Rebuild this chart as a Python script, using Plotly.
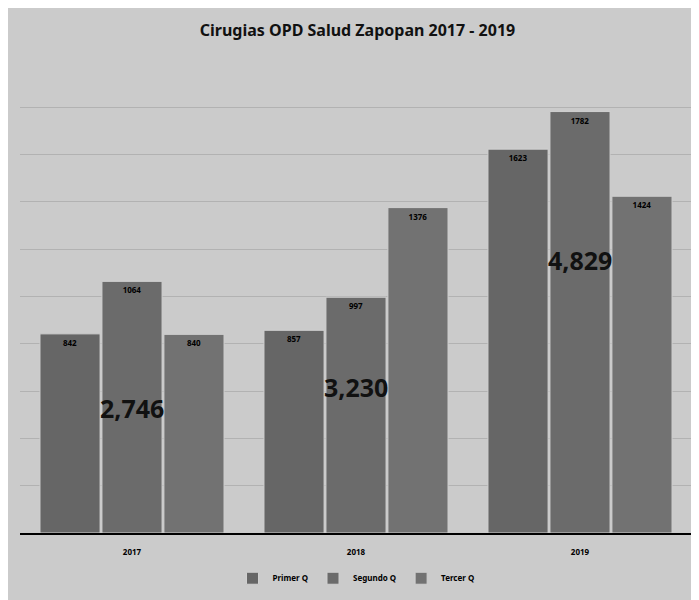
import plotly.graph_objects as go

years = ["2017", "2018", "2019"]
primer_q = [842, 857, 1623]
segundo_q = [1064, 997, 1782]
tercer_q = [840, 1376, 1424]
totals = ["2,746", "3,230", "4,829"]
total_label_y = [528, 617, 1154]

series = [("Primer Q", primer_q, "#666666"),
          ("Segundo Q", segundo_q, "#6b6b6b"),
          ("Tercer Q", tercer_q, "#727272")]

fig = go.Figure()
for name, vals, col in series:
    fig.add_trace(go.Bar(
        x=years, y=vals, name=name,
        marker=dict(color=col, line=dict(color="#d0d0d0", width=1)),
        text=[str(v) for v in vals], textposition="inside",
        insidetextanchor="end", textangle=0,
        textfont=dict(family="Noto Sans", size=8, color="black", weight="bold"),
    ))

for i, (t, yy) in enumerate(zip(totals, total_label_y)):
    fig.add_annotation(x=i, y=yy, text=t, showarrow=False,
                       font=dict(family="Noto Sans", size=25, color="#111111", weight="bold"))

fig.update_layout(
    width=699, height=600,
    barmode="group", bargap=0.17, bargroupgap=0.03,
    paper_bgcolor="#cbcbcb", plot_bgcolor="#cbcbcb",
    margin=dict(l=12, r=15, t=52, b=75),
    title=dict(text="Cirugias OPD Salud Zapopan 2017 - 2019", x=0.5, xanchor="center",
               y=1 - 22 / 600, yanchor="middle",
               font=dict(family="Noto Sans", size=16, color="#111111", weight="bold")),
    showlegend=True,
    legend=dict(orientation="h", x=0.5, xanchor="center", y=-0.065, yanchor="top",
                font=dict(family="Noto Sans", size=8, color="black", weight="bold"),
                itemwidth=30, bgcolor="rgba(0,0,0,0)"),
    uniformtext=dict(minsize=8, mode="show"),
)
fig.update_xaxes(type="category", range=[-0.5, 2.5], showline=True, linecolor="black",
                 linewidth=2, ticks="", ticklabelstandoff=10,
                 tickfont=dict(family="Noto Sans", size=8, color="black", weight="bold"))
fig.update_yaxes(range=[0, 2000], dtick=200, showgrid=True, gridcolor="#b2b2b2",
                 showticklabels=False, zeroline=False)

fig.write_html("out.html")
